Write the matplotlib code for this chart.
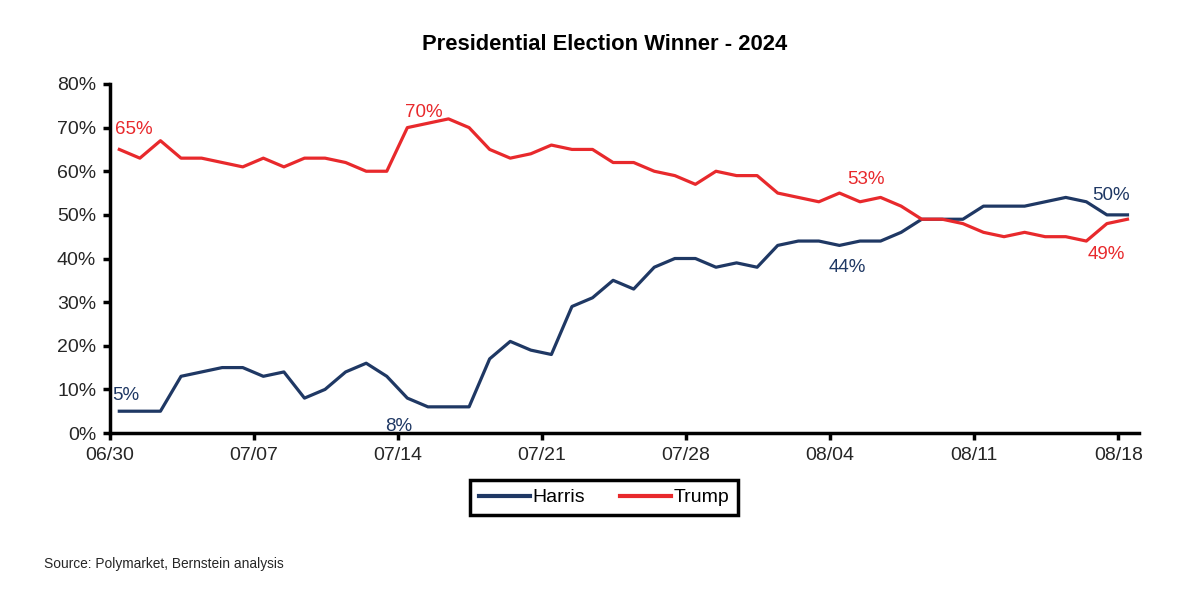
import numpy as np
import matplotlib.pyplot as plt

plt.rcParams['font.family'] = ['Liberation Sans', 'DejaVu Sans']

# daily values, 06/30 .. 08/18
harris = [5, 5, 5, 13, 14, 15, 15, 13, 14, 8, 10, 14, 16, 13, 8, 6, 6, 6, 17, 21,
          19, 18, 29, 31, 35, 33, 38, 40, 40, 38, 39, 38, 43, 44, 44, 43, 44, 44, 46, 49,
          49, 49, 52, 52, 52, 53, 54, 53, 50, 50]
trump = [65, 63, 67, 63, 63, 62, 61, 63, 61, 63, 63, 62, 60, 60, 70, 71, 72, 70, 65, 63,
         64, 66, 65, 65, 62, 62, 60, 59, 57, 60, 59, 59, 55, 54, 53, 55, 53, 54, 52, 49,
         49, 48, 46, 45, 46, 45, 45, 44, 48, 49]
tick_labels = ['06/30', '07/07', '07/14', '07/21', '07/28', '08/04', '08/11', '08/18']
yticks = [0, 10, 20, 30, 40, 50, 60, 70, 80]

# labelled points: (index, text)
harris_notes = [(0, '5%'), (14, '8%'), (34, '44%'), (48, '50%')]
trump_notes = [(0, '65%'), (14, '70%'), (36, '53%'), (48, '49%')]

navy = '#1f3864'
red = '#e8292c'

x = np.arange(len(harris)) + 0.45

fig = plt.figure(figsize=(12, 5.91), dpi=100)
ax = fig.add_axes([0.0917, 0.2673, 0.8573, 0.5906])

ax.plot(x, harris, color=navy, lw=2.3, label='Harris')
ax.plot(x, trump, color=red, lw=2.3, label='Trump')

ax.set_xlim(0, 50)
ax.set_ylim(0, 80)
ax.set_xticks(np.arange(0, 50, 7))
ax.set_xticklabels(tick_labels)
ax.set_yticks(yticks)
ax.set_yticklabels(['%d%%' % v for v in yticks])

for s in ['top', 'right']:
    ax.spines[s].set_visible(False)
for s in ['left', 'bottom']:
    ax.spines[s].set_linewidth(2.5)
ax.tick_params(direction='out', length=5, width=2.5, labelsize=14,
               labelcolor='#262626', pad=5)

offsets_h = {0: (0.3, 3.5), 14: (-0.4, -6.5), 34: (1.4, -6.0), 48: (0.2, 4.5)}
offsets_t = {0: (0.7, 4.5), 14: (0.8, 3.5), 36: (0.3, 5.2), 48: (-0.05, -7.0)}
for i, txt in harris_notes:
    dx, dy = offsets_h[i]
    ax.text(x[i] + dx, harris[i] + dy, txt, color=navy, fontsize=13.5,
            ha='center', va='center')
for i, txt in trump_notes:
    dx, dy = offsets_t[i]
    ax.text(x[i] + dx, trump[i] + dy, txt, color=red, fontsize=13.5,
            ha='center', va='center')

fig.text(0.504, 0.925, 'Presidential Election Winner - 2024', ha='center',
         va='center', fontsize=15.8, fontweight='bold')

leg = fig.legend(loc='center', bbox_to_anchor=(0.5035, 0.158), ncol=2,
                 frameon=True, fancybox=False, fontsize=14, framealpha=1,
                 handlelength=2.6, handletextpad=0.15, columnspacing=1.8,
                 borderpad=0.45)
leg.get_frame().set_edgecolor('black')
leg.get_frame().set_linewidth(2.5)
for line in leg.get_lines():
    line.set_linewidth(3)

fig.text(0.037, 0.045, 'Source: Polymarket, Bernstein analysis', fontsize=9.9,
         va='center', color='#262626')

fig.savefig('out.png', dpi=100)
